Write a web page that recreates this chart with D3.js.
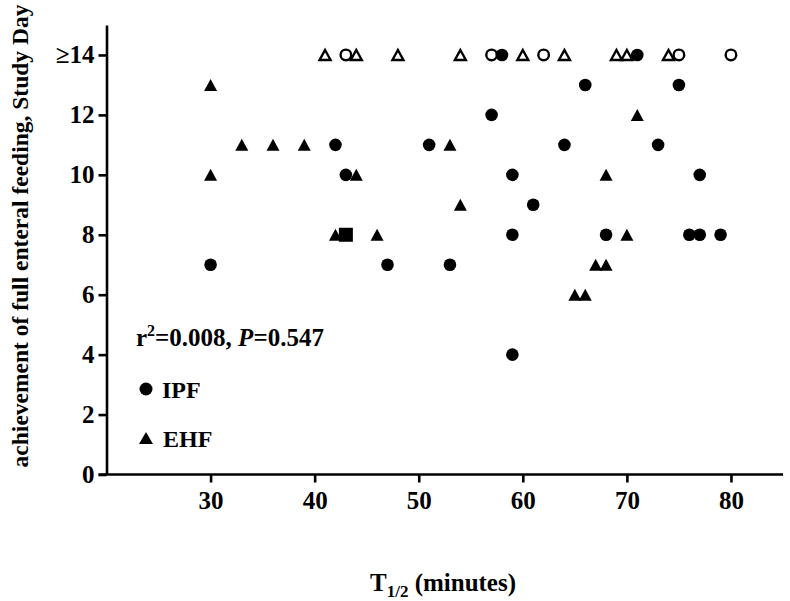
<!DOCTYPE html>
<html>
<head>
<meta charset="utf-8">
<script src="https://cdn.jsdelivr.net/npm/d3@7"></script>
<style>
  body { margin: 0; background: #fff; }
  svg { display: block; font-family: "Liberation Serif", "Times New Roman", serif; font-weight: bold; }
</style>
</head>
<body>
<svg id="chart" width="790" height="601"></svg>
<script>
// T1/2 (minutes) vs study day of full enteral feeding
var ipfT   = [30, 47, 53, 42, 51, 43, 57, 64, 73, 59, 77, 61, 59, 68, 76, 77, 79, 66, 75, 59, 58, 71];
var ipfDay = [ 7,  7,  7, 11, 11, 10, 12, 11, 11, 10, 10,  9,  8,  8,  8,  8,  8, 13, 13,  4, 14, 14];

var ehfT   = [30, 33, 36, 39, 30, 44, 42, 46, 53, 71, 68, 54, 70, 67, 68, 65, 66];
var ehfDay = [13, 11, 11, 11, 10, 10,  8,  8, 11, 12, 10,  9,  8,  7,  7,  6,  6];

// not reached by day 14 (open markers)
var ipfOpenT = [43, 57, 62, 75, 80];
var ehfOpenT = [41, 44, 48, 54, 60, 64, 69, 70, 74];
var openDay = 14;

// square marker
var sqT = [43];
var sqDay = [8];

var xTicks = [30, 40, 50, 60, 70, 80];
var yTicks = [0, 2, 4, 6, 8, 10, 12, 14];
var yTickLabels = ["0", "2", "4", "6", "8", "10", "12", "\u226514"];

var svg = d3.select('#chart');

var x = d3.scaleLinear().domain([20, 85]).range([106.5, 783]);
var y = d3.scaleLinear().domain([0, 15]).range([474.5, 25]);

function tri(w, h) {
  return 'M0,' + (-h/2) + 'L' + (w/2) + ',' + (h/2) + 'L' + (-w/2) + ',' + (h/2) + 'Z';
}

// axes
var xAxis = svg.append('g')
    .attr('transform', 'translate(0,' + y(0) + ')')
    .call(d3.axisBottom(x).tickValues(xTicks).tickSize(8).tickPadding(9).tickSizeOuter(0));
var yAxis = svg.append('g')
    .attr('transform', 'translate(' + x(20) + ',0)')
    .call(d3.axisLeft(y).tickValues(yTicks).tickSize(8).tickPadding(4).tickSizeOuter(0)
      .tickFormat(function(d, i) { return yTickLabels[i]; }));

[xAxis, yAxis].forEach(function(a) {
  a.select('.domain').attr('stroke', '#000').attr('stroke-width', 2.6);
  a.selectAll('.tick line').attr('stroke', '#000').attr('stroke-width', 2.6);
  a.selectAll('.tick text')
    .attr('fill', '#000')
    .style('font-family', '"Liberation Serif", "Times New Roman", serif')
    .style('font-weight', 'bold')
    .style('font-size', '25px');
});
// y ticks extend left past the x axis line at 0
xAxis.select('.domain').attr('d', 'M' + (x(20) - 8) + ',0H' + x(85));

// open markers
svg.append('g').selectAll('circle')
    .data(ipfOpenT)
    .enter()
    .append('circle')
    .attr('cx', function(d) { return x(d); })
    .attr('cy', y(openDay))
    .attr('r', 5.3)
    .attr('fill', 'none')
    .attr('stroke', '#000')
    .attr('stroke-width', 2.4);

svg.append('g').selectAll('path')
    .data(ehfOpenT)
    .enter()
    .append('path')
    .attr('d', tri(11, 10))
    .attr('transform', function(d) { return 'translate(' + x(d) + ',' + y(openDay) + ')'; })
    .attr('fill', 'none')
    .attr('stroke', '#000')
    .attr('stroke-width', 2.4)
    .attr('stroke-linejoin', 'miter');

// filled markers
svg.append('g').selectAll('path')
    .data(ehfT)
    .enter()
    .append('path')
    .attr('d', tri(13, 12))
    .attr('transform', function(d, i) { return 'translate(' + x(d) + ',' + y(ehfDay[i]) + ')'; })
    .attr('fill', '#000');

svg.append('g').selectAll('circle')
    .data(ipfT)
    .enter()
    .append('circle')
    .attr('cx', function(d) { return x(d); })
    .attr('cy', function(d, i) { return y(ipfDay[i]); })
    .attr('r', 6.3)
    .attr('fill', '#000');

svg.append('g').selectAll('rect')
    .data(sqT)
    .enter()
    .append('rect')
    .attr('x', function(d) { return x(d) - 7; })
    .attr('y', function(d, i) { return y(sqDay[i]) - 7; })
    .attr('width', 14)
    .attr('height', 14)
    .attr('fill', '#000');

// stats annotation
var stat = svg.append('text')
    .attr('x', 136)
    .attr('y', 346)
    .attr('font-size', 25);
stat.append('tspan').text('r');
stat.append('tspan').attr('font-size', 16).attr('dy', -10).text('2');
stat.append('tspan').attr('dy', 10).text('=0.008, ');
stat.append('tspan').attr('font-style', 'italic').text('P');
stat.append('tspan').text('=0.547');

// legend
svg.append('circle').attr('cx', 146).attr('cy', 389).attr('r', 6.5).attr('fill', '#000');
svg.append('text').attr('x', 162).attr('y', 398).attr('font-size', 24).text('IPF');
svg.append('path').attr('d', tri(14, 12)).attr('transform', 'translate(146,438)').attr('fill', '#000');
svg.append('text').attr('x', 163).attr('y', 447).attr('font-size', 24).text('EHF');

// axis titles
svg.append('text')
    .attr('transform', 'translate(28,236) rotate(-90)')
    .attr('text-anchor', 'middle')
    .attr('font-size', 23.5)
    .text('achievement of full enteral feeding, Study Day');

var xt = svg.append('text')
    .attr('x', 443)
    .attr('y', 591)
    .attr('text-anchor', 'middle')
    .attr('font-size', 25);
xt.append('tspan').text('T');
xt.append('tspan').attr('font-size', 17).attr('dy', 6).text('1/2');
xt.append('tspan').attr('dy', -6).text(' (minutes)');
</script>
</body>
</html>
